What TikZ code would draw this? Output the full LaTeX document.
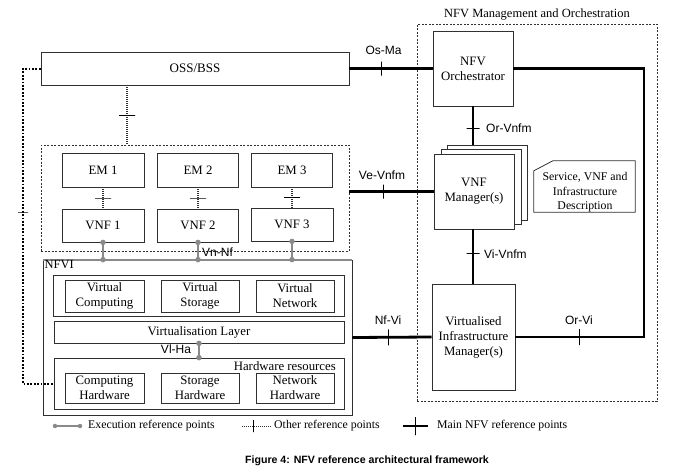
\documentclass[tikz,border=0pt]{standalone}
\usepackage{fontspec}
\setmainfont{Liberation Serif}
\newfontfamily\lsans{Liberation Sans}
\usetikzlibrary{calc}
\definecolor{bord}{HTML}{303030}
\definecolor{execg}{HTML}{8A8A8A}
\begin{document}
\begin{tikzpicture}[x=1pt,y=-1pt,
 box/.style={draw=bord, line width=0.8pt, fill=white, inner sep=0pt, align=center, font=\fontsize{12.8}{15}\selectfont},
 dbox/.style={draw=bord, line width=0.6pt, dash pattern=on 2pt off 1.5pt, inner sep=0pt},
 mainline/.style={line width=2.8pt, black},
 dotline/.style={line width=1.1pt, bord, dash pattern=on 1pt off 1pt},
 bigdot/.style={line width=2pt, black, dash pattern=on 1.8pt off 1.6pt},
 execline/.style={line width=1.8pt, execg},
 execdot/.style={circle, fill=execg, draw=none, inner sep=0pt, minimum size=5.5pt},
 vtick/.style={draw, solid, black, line width=0.9pt, minimum width=0pt, minimum height=14pt, inner sep=0pt, outer sep=0pt},
 htick/.style={draw, solid, black, line width=0.9pt, minimum height=0pt, minimum width=13pt, inner sep=0pt, outer sep=0pt},
 lbl/.style={font=\lsans\fontsize{12}{13}\selectfont, inner sep=0pt},
 ttl/.style={font=\fontsize{12.5}{15}\selectfont, inner sep=0pt},
 leg/.style={font=\fontsize{11.8}{13}\selectfont, inner sep=0pt, anchor=west},
]
\useasboundingbox (0,0) rectangle (682,474);

% ---------- containers ----------
\node[dbox, minimum width=308pt, minimum height=106pt] (emdash) at (195,198) {};
\node[dbox, minimum width=240pt, minimum height=377pt] (mano) at (537,212.5) {};
\node[ttl] (manol) at (537,15) {NFV Management and Orchestration};

% ---------- OSS/BSS ----------
\node[box, font=\fontsize{13}{15}\selectfont, minimum width=308pt, minimum height=33pt] (oss) at (195,68.5) {OSS/BSS};

% ---------- EMs and VNFs ----------
\node[box, minimum width=82pt, minimum height=34pt] (em1) at (103,170) {EM 1};
\node[box, minimum width=81pt, minimum height=34pt] (em2) at (198,170) {EM 2};
\node[box, minimum width=81pt, minimum height=34pt] (em3) at (292,170) {EM 3};
\node[box, minimum width=82pt, minimum height=33pt] (vnf1) at (103,225.5) {VNF 1};
\node[box, minimum width=81pt, minimum height=33pt] (vnf2) at (198,225.5) {VNF 2};
\node[box, minimum width=82pt, minimum height=33pt] (vnf3) at (292,224.5) {VNF 3};

\draw[dotline] (em1.south) -- (vnf1.north) node[midway, htick, minimum width=16pt] (t1) {};
\draw[dotline] (em2.south) -- (vnf2.north) node[midway, htick, minimum width=16pt] (t2) {};
\draw[dotline] (em3.south) -- (vnf3.north) node[midway, htick, minimum width=16pt] (t3) {};

% ---------- NFVI ----------
\node[box, minimum width=309pt, minimum height=155pt] (nfvi) at (197.5,337.5) {};
\draw[execline] (nfvi.north west) -- (nfvi.north east);
\node[font=\fontsize{12.5}{14}\selectfont, inner sep=1pt, anchor=north west] (nfvil) at (43.5,259.5) {NFVI};

\node[box, minimum width=291pt, minimum height=41pt] (vout) at (198.5,295.5) {};
\node[box, minimum width=79pt, minimum height=32pt] (vc) at (104.5,296) {Virtual\\Computing};
\node[box, minimum width=78pt, minimum height=32pt] (vs) at (200,296) {Virtual\\Storage};
\node[box, minimum width=78pt, minimum height=32pt] (vn) at (295,296) {Virtual\\Network};
\node[box, minimum width=290pt, minimum height=22pt] (vl) at (199,332) {Virtualisation Layer};
\node[box, minimum width=290pt, minimum height=51pt] (hw) at (199,383.5) {};
\node[font=\fontsize{12.8}{14}\selectfont, inner sep=0pt, anchor=east] (hwl) at (336,366) {Hardware resources};
\node[box, minimum width=79pt, minimum height=30pt] (ch) at (104.5,388) {Computing\\Hardware};
\node[box, minimum width=78pt, minimum height=30pt] (sh) at (200,388) {Storage\\Hardware};
\node[box, minimum width=78pt, minimum height=30pt] (nh) at (295,388) {Network\\Hardware};

% execution reference points
\draw[execline] (vnf1.south) node[execdot] (d1a) {} -- (vnf1.south |- nfvi.north) node[execdot] (d1b) {};
\draw[execline] (vnf2.south) node[execdot] (d2a) {} -- (vnf2.south |- nfvi.north) node[execdot] (d2b) {};
\draw[execline] (vnf3.south) node[execdot] (d3a) {} -- (vnf3.south |- nfvi.north) node[execdot] (d3b) {};
\node[lbl, anchor=west] (vnnf) at (202,252) {Vn-Nf};
\draw[execline] (vl.south) node[execdot] (d4a) {} -- (hw.north) node[execdot] (d4b) {};
\node[lbl] (vlha) at (176,349) {Vl-Ha};

% ---------- OSS links ----------
\draw[dotline] ([xshift=-68pt]oss.south) -- ([xshift=-68pt]emdash.north) node[midway, htick, minimum width=16pt] (t4) {};
\coordinate (lc) at (23,212);
\draw[bigdot] (oss.west) -| (lc) |- (hw.west);
\node[htick, minimum width=10pt] (t5) at (lc) {};

% ---------- MANO ----------
\node[box, minimum width=80pt, minimum height=75pt] (orch) at (473,68.5) {NFV\\Orchestrator};
\draw[mainline] (orch.south) -- (orch.south |- 0,145) node[pos=0.56, htick] (t6) {};
\node[box, minimum width=80pt, minimum height=75pt] (vnfmb) at (487,182.5) {};
\node[box, minimum width=80pt, minimum height=75pt] (vnfmm) at (481,187) {};
\node[box, minimum width=80pt, minimum height=75pt] (vnfm) at (474,191.5) {VNF\\Manager(s)};
\node[box, minimum width=83pt, minimum height=106pt] (vim) at (473.5,337) {Virtualised\\Infrastructure\\Manager(s)};
\draw[mainline] ([xshift=-1pt]vnfm.south) -- ([xshift=-1pt]vnfm.south |- vim.north) node[pos=0.45, htick] (t7) {};

\node[inner sep=0pt, minimum width=101pt, minimum height=51pt] (desc) at (584.5,186.5) {};
\draw[bord, line width=0.8pt] (desc.south west) -- ([yshift=-10pt]desc.north west) -- ([xshift=19pt]desc.north west) -- (desc.north east) -- (desc.south east) -- cycle;
\node[align=center, inner sep=0pt, font=\fontsize{11.8}{14.5}\selectfont] (desct) at (585,192.5) {Service, VNF and\\Infrastructure\\Description};

\coordinate (orvi) at (644,337);

% main reference points
\draw[mainline] (oss.east) -- (orch.west) node[pos=0.39, vtick] (t8) {};
\draw[mainline] (vnfm.west) -- (vnfm.west -| emdash.east) node[pos=0.6, vtick] (t9) {};
\draw[mainline] (nfvi.east) -- (vim.west) node[pos=0.45, vtick, minimum height=16pt] (t10) {};
\draw[mainline] (orch.east) -| (orvi) -- (vim.east) node[pos=0.5, vtick, minimum height=16pt] (t11) {};

\node[lbl] (osma) at (383.5,50) {Os-Ma};
\node[lbl] (vevnfm) at (382,175) {Ve-Vnfm};
\node[lbl] (nfvil2) at (388,320) {Nf-Vi};
\node[lbl] (orvil) at (579,320) {Or-Vi};
\node[lbl, anchor=west] (orvnfm) at (486,128) {Or-Vnfm};
\node[lbl, anchor=west] (vivnfm) at (484,254) {Vi-Vnfm};

% ---------- legend ----------
\node[execdot, minimum size=4.5pt] (le1) at (55,426) {};
\node[execdot, minimum size=4.5pt] (le2) at (80,426) {};
\draw[execline, line width=1.2pt] (le1) -- (le2);
\node[leg] (let) at (88,426) {Execution reference points};
\coordinate (lo1) at (242,426);
\coordinate (lo2) at (272,426);
\draw[line width=0.6pt, bord, dash pattern=on 1pt off 1pt] (lo1) -- (lo2) node[pos=0.37, vtick, line width=0.6pt, minimum height=12pt] (lot) {};
\node[leg] (lotx) at (274,426) {Other reference points};
\coordinate (lm1) at (403,426);
\coordinate (lm2) at (428,426);
\draw[mainline] (lm1) -- (lm2) node[midway, vtick, minimum height=18pt] (lmt) {};
\node[leg] (lmtx) at (437,426) {Main NFV reference points};

\node[font=\lsans\bfseries\fontsize{10.6}{12}\selectfont, inner sep=0pt] (cap) at (367,461) {Figure 4: NFV reference architectural framework};
\end{tikzpicture}
\end{document}
